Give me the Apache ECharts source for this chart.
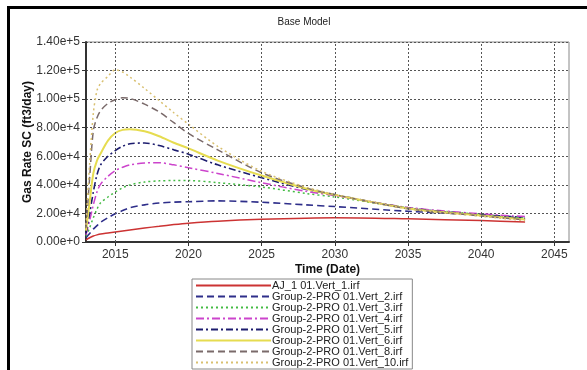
<!DOCTYPE html>
<html>
<head>
<meta charset="utf-8">
<script src="https://cdn.jsdelivr.net/npm/echarts@6/dist/echarts.min.js"></script>
<style>
html,body{margin:0;padding:0;background:#fff;}
#chart{width:587px;height:370px;}
</style>
</head>
<body>
<div id="chart"></div>
<script>
const years = [2013, 2013.25, 2013.5, 2013.75, 2014, 2014.5, 2015, 2015.5, 2016, 2017, 2018, 2019, 2020, 2022, 2025, 2028, 2030, 2035, 2040, 2043];

const vert1  = [1500, 3000, 4200, 5000, 5600, 6300, 7000, 7700, 8400, 9800, 11000, 12200, 13200, 14600, 15900, 16700, 17000, 16200, 15000, 14000];
const vert2  = [3000, 6000, 9000, 11500, 13800, 17000, 19800, 22000, 24000, 26000, 27300, 27900, 28200, 28800, 27800, 26000, 24800, 21500, 19000, 17200];
const vert3  = [4000, 10000, 17000, 23000, 27500, 31500, 35000, 38000, 40000, 42000, 42800, 43000, 43000, 41500, 38500, 34000, 31500, 24000, 19200, 16800];
const vert4  = [5000, 15000, 26000, 35000, 40500, 46000, 50000, 52300, 54000, 55300, 55500, 54000, 52000, 48000, 41500, 35500, 32500, 24200, 19700, 17800];
const vert5  = [6000, 20000, 35000, 47000, 54000, 60000, 64000, 67000, 68800, 69300, 67500, 64500, 61500, 54000, 45000, 37000, 33000, 23800, 19000, 16500];
const vert6  = [8000, 28000, 48000, 57000, 62000, 71000, 76300, 78500, 79000, 77500, 74000, 69500, 65500, 57000, 46500, 37500, 33000, 23500, 18500, 15800];
const vert8  = [10000, 45000, 78000, 87000, 92000, 97000, 99600, 101000, 100500, 96500, 91000, 83500, 76000, 64500, 48500, 38000, 33200, 23300, 18200, 15500];
const vert10 = [12000, 55000, 90000, 106000, 111000, 116000, 120500, 119000, 115500, 107500, 99000, 90500, 82500, 67000, 49500, 38500, 33300, 23300, 18000, 15000];

const seriesNames = ['AJ_1 01.Vert_1.irf', 'Group-2-PRO 01.Vert_2.irf', 'Group-2-PRO 01.Vert_3.irf', 'Group-2-PRO 01.Vert_4.irf', 'Group-2-PRO 01.Vert_5.irf', 'Group-2-PRO 01.Vert_6.irf', 'Group-2-PRO 01.Vert_8.irf', 'Group-2-PRO 01.Vert_10.irf'];
const seriesValues = [vert1, vert2, vert3, vert4, vert5, vert6, vert8, vert10];
const xTickValues = [2015, 2020, 2025, 2030, 2035, 2040, 2045];

const colors = ['#cc3333', '#2e2e8a', '#44bb44', '#cc44cc', '#1c1c6e', '#e6dc50', '#7a6a6a', '#d9c070'];
const dashes = ['solid', [7, 4], [2, 3], [8, 3, 2, 3], [7, 3, 2, 3], 'solid', [7, 4], [2, 3]];
const widths = [1.5, 1.6, 1.5, 1.5, 1.6, 2, 1.5, 1.5];

const series = seriesNames.map((name, i) => ({
  name: name,
  type: 'line',
  symbol: 'none',
  smooth: 0.3,
  color: colors[i],
  lineStyle: { color: colors[i], width: widths[i], type: dashes[i] },
  data: years.map((y, j) => [y, seriesValues[i][j]]),
  z: 3
}));

series.push({
  type: 'line',
  name: '_grid',
  data: [],
  silent: true,
  z: 1,
  markLine: {
    silent: true,
    symbol: 'none',
    label: { show: false },
    lineStyle: { color: '#555', type: [2, 2], width: 1 },
    data: xTickValues.map(v => ({ xAxis: v }))
  }
});

const chart = echarts.init(document.getElementById('chart'), null, { renderer: 'canvas' });
chart.setOption({
  animation: false,
  backgroundColor: '#fff',
  textStyle: { fontFamily: 'Liberation Sans, Arial, sans-serif' },
  title: {
    text: 'Base Model',
    left: 299, top: 12,
    textAlign: 'center',
    textStyle: { fontSize: 10, fontWeight: 'normal', color: '#222', fontFamily: 'Liberation Sans, Arial, sans-serif' }
  },
  grid: { left: 86, right: 18, top: 42, bottom: 128, show: true, borderColor: '#888', borderWidth: 1 },
  xAxis: {
    type: 'value',
    min: 2013, max: 2046,
    name: 'Time (Date)',
    nameLocation: 'middle',
    nameGap: 22,
    nameMoveOverlap: false,
    nameTextStyle: { fontWeight: 'bold', fontSize: 12, color: '#111' },
    axisLine: { show: true, onZero: false, lineStyle: { color: '#333', width: 2 } },
    axisTick: { show: true, length: 4, customValues: xTickValues, lineStyle: { color: '#333' } },
    axisLabel: { customValues: xTickValues, color: '#333', fontSize: 12, margin: 7, formatter: v => String(v) },
    splitLine: { show: false }
  },
  yAxis: {
    type: 'value',
    min: 0, max: 140000, interval: 20000,
    name: 'Gas Rate SC (ft3/day)',
    nameLocation: 'middle',
    nameGap: 52,
    nameMoveOverlap: false,
    nameTextStyle: { fontWeight: 'bold', fontSize: 12, color: '#111' },
    axisLine: { show: true, lineStyle: { color: '#333', width: 2 } },
    axisTick: { show: true, length: 4, lineStyle: { color: '#333' } },
    axisLabel: { color: '#333', fontSize: 12, margin: 6, formatter: v => v.toExponential(2) },
    splitLine: { show: true, lineStyle: { color: '#555', type: [2, 2], width: 1 } }
  },
  legend: {
    orient: 'vertical',
    left: 192, top: 279,
    width: 217, height: 88,
    padding: [1, 4, 1, 3],
    itemWidth: 75, itemHeight: 11, itemGap: 0,
    borderColor: '#888', borderWidth: 1,
    backgroundColor: '#fff',
    itemStyle: { opacity: 0 },
    data: seriesNames,
    textStyle: { fontSize: 11, lineHeight: 11, color: '#222', padding: [0, 0, 0, -4] }
  },
  graphic: [
    { type: 'rect', shape: { x: 7, y: 6, width: 580, height: 3 }, style: { fill: '#000' }, z: 100 },
    { type: 'rect', shape: { x: 7, y: 6, width: 3, height: 364 }, style: { fill: '#000' }, z: 100 }
  ],
  series: series
});
</script>
</body>
</html>
